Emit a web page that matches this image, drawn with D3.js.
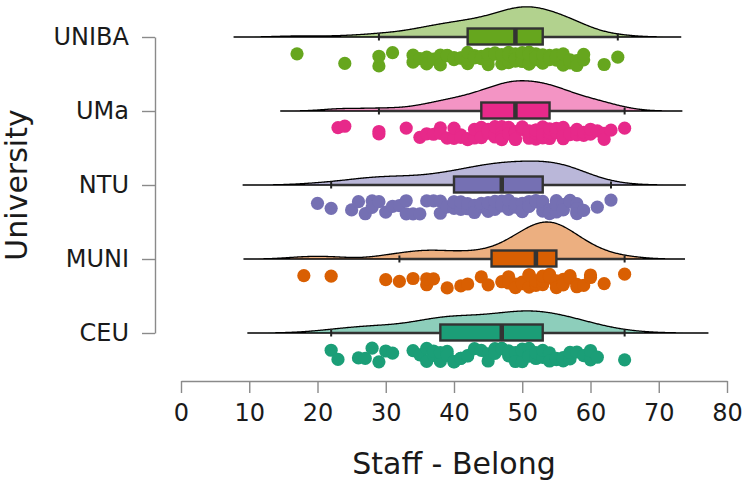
<!DOCTYPE html>
<html>
<head>
<meta charset="utf-8">
<script src="https://cdn.jsdelivr.net/npm/d3@7"></script>
<style>
  body { margin: 0; background: #fff; }
  svg { display: block; font-family: "DejaVu Sans", sans-serif; }
</style>
</head>
<body>
<div class="container"></div>
<script>
// categories, bottom to top
const universities = ['CEU', 'MUNI', 'NTU', 'UMa', 'UNIBA'];
const colours = ['#1b9e77', '#d95f02', '#7570b3', '#e7298a', '#66a61e'];

// Staff - Belong scores per university
const ceu = [22, 23, 26, 27, 28, 29, 30, 31, 34, 35, 36, 36, 37, 37, 38, 38,
  39, 39, 40, 40, 41, 41, 42, 42, 43, 44, 45, 45, 46, 46, 47,
  47, 48, 48, 49, 49, 50, 50, 50, 51, 51, 51, 52, 52, 52, 53,
  53, 54, 54, 55, 55, 56, 56, 57, 57, 58, 59, 60, 60, 61, 65];
const muni = [18, 22, 30, 32, 34, 36, 36, 37, 39, 41, 42, 44, 45, 47,
  48, 48, 49, 49, 50, 50, 51, 51, 51, 52, 52, 52,
  53, 53, 53, 53, 54, 54, 54, 54, 55, 55, 55, 55,
  56, 56, 56, 57, 57, 58, 58, 59, 60, 60, 62, 65];
const ntu = [20, 22, 25, 26, 27, 28, 28, 29, 30, 31, 32, 33, 33, 34, 35, 36, 37, 38, 38, 39,
  40, 40, 40, 41, 41, 42, 42, 43, 43, 44, 44, 44, 45, 45, 45, 46, 46, 46, 47, 47,
  47, 47, 48, 48, 48, 49, 49, 49, 50, 50, 50, 51, 51, 51, 52, 52, 52, 53, 53, 53,
  53, 54, 54, 54, 55, 55, 55, 55, 56, 56, 56, 57, 57, 57, 58, 58, 58, 58, 59, 61, 63];
const uma = [23, 24, 29, 29, 33, 35, 36, 37, 38, 38, 39, 40, 40, 41, 41, 42, 42, 43, 43, 44,
  44, 44, 45, 45, 45, 46, 46, 46, 47, 47, 47, 47, 48, 48, 48, 48, 49, 49, 49, 49,
  49, 49, 50, 50, 50, 50, 51, 51, 51, 52, 52, 52, 52, 53, 53, 53, 53, 54, 54, 54,
  54, 54, 55, 55, 55, 56, 56, 56, 57, 57, 58, 58, 59, 59, 60, 60, 61, 62, 62, 63, 65];
const uniba = [17, 24, 29, 29, 31, 34, 34, 35, 36, 36, 37, 38, 38, 39, 39, 40, 40, 41, 41, 42,
  42, 42, 43, 43, 44, 44, 45, 45, 45, 46, 46, 46, 47, 47, 47, 48, 48, 48, 48, 49,
  49, 49, 49, 49, 50, 50, 50, 50, 51, 51, 51, 51, 51, 52, 52, 52, 52, 52, 53, 53,
  53, 53, 54, 54, 54, 55, 55, 55, 56, 56, 56, 57, 57, 57, 58, 58, 58, 59, 59, 62, 64];
const scores = [ceu, muni, ntu, uma, uniba];

const xTicks = [0, 10, 20, 30, 40, 50, 60, 70, 80];

const W = 743, H = 481;
const FONT = '"DejaVu Sans", sans-serif';
const svg = d3.select('.container').append('svg')
    .attr('width', W)
    .attr('height', H);

const x = d3.scaleLinear().domain([0, 80]).range([181, 727]);
const y = d3.scalePoint().domain(universities).range([333, 37]);

// gaussian kde like R's density(), bw.nrd0, cut = 3
function density(values) {
    const s = values.slice().sort(d3.ascending);
    const n = s.length;
    const iqr = d3.quantileSorted(s, 0.75) - d3.quantileSorted(s, 0.25);
    const bw = 0.9 * Math.min(d3.deviation(s), iqr / 1.34) * Math.pow(n, -0.2);
    const lo = s[0] - 3 * bw, hi = s[n - 1] + 3 * bw;
    const pts = [];
    for (let i = 0; i < 512; i++) {
        const v = lo + (hi - lo) * i / 511;
        let sum = 0;
        for (const d of s) {
            const u = (v - d) / bw;
            sum += Math.exp(-0.5 * u * u);
        }
        pts.push([v, sum / (n * bw * Math.sqrt(2 * Math.PI))]);
    }
    return pts;
}

function boxStats(values) {
    const s = values.slice().sort(d3.ascending);
    const q1 = d3.quantileSorted(s, 0.25), med = d3.quantileSorted(s, 0.5), q3 = d3.quantileSorted(s, 0.75);
    const iqr = q3 - q1;
    const lo = d3.min(s.filter(v => v >= q1 - 1.5 * iqr));
    const hi = d3.max(s.filter(v => v <= q3 + 1.5 * iqr));
    return {q1, med, q3, lo, hi};
}

const groups = universities.map((u, i) => ({
    name: u, colour: colours[i], values: scores[i],
    dens: density(scores[i]), box: boxStats(scores[i])
}));

// violins scaled by area: common max density -> half the band
const maxDens = d3.max(groups, g => d3.max(g.dens, d => d[1]));
const h = d3.scaleLinear().domain([0, maxDens]).range([0, 37]);

// axes
const yAxis = svg.append('g')
    .attr('transform', 'translate(155,0)')
    .call(d3.axisLeft(y).tickSize(13).tickSizeOuter(0).tickPadding(13));
const xAxis = svg.append('g')
    .attr('transform', 'translate(0,381)')
    .call(d3.axisBottom(x).tickValues(xTicks).tickSize(12).tickSizeOuter(0).tickPadding(11));
[yAxis, xAxis].forEach(a => {
    a.attr('font-family', FONT);
    a.selectAll('path, line').attr('stroke', '#8a8a8a').attr('stroke-width', 1.4);
    a.selectAll('text').attr('fill', '#1a1a1a').style('font-size', '24px');
});

svg.append('text')
    .attr('x', 454).attr('y', 474)
    .attr('text-anchor', 'middle')
    .style('font-size', '30px')
    .attr('fill', '#1a1a1a')
    .text('Staff - Belong');
svg.append('text')
    .attr('transform', 'translate(27,185) rotate(-90)')
    .attr('text-anchor', 'middle')
    .style('font-size', '30px')
    .attr('fill', '#1a1a1a')
    .text('University');

// half violins
const plot = svg.append('g');
groups.forEach(g => {
    const base = y(g.name);
    const area = d3.area()
        .x(d => x(d[0]))
        .y0(base)
        .y1(d => base - h(d[1]));
    plot.append('path')
        .datum(g.dens)
        .attr('d', area)
        .attr('fill', g.colour)
        .attr('fill-opacity', 0.5)
        .attr('stroke', '#000')
        .attr('stroke-width', 1.3);
});

// jittered points below each violin
const rng = d3.randomLcg(0.137);
groups.forEach(g => {
    const base = y(g.name);
    plot.append('g').selectAll('circle')
        .data(g.values)
        .enter().append('circle')
        .attr('cx', d => x(d))
        .attr('cy', () => base + 15 + rng() * 14)
        .attr('r', 6.6)
        .attr('fill', g.colour);
});

// boxplots
groups.forEach(g => {
    const base = y(g.name), b = g.box;
    const bx = plot.append('g');
    bx.append('line')
        .attr('x1', x(b.lo)).attr('x2', x(b.hi))
        .attr('y1', base).attr('y2', base)
        .attr('stroke', '#333').attr('stroke-width', 2.4);
    [b.lo, b.hi].forEach(v => {
        bx.append('line')
            .attr('x1', x(v)).attr('x2', x(v))
            .attr('y1', base - 3.5).attr('y2', base + 3.5)
            .attr('stroke', '#222').attr('stroke-width', 2);
    });
    bx.append('rect')
        .attr('x', x(b.q1)).attr('width', x(b.q3) - x(b.q1))
        .attr('y', base - 8.5).attr('height', 16)
        .attr('fill', g.colour)
        .attr('stroke', '#333').attr('stroke-width', 2.4);
    bx.append('line')
        .attr('x1', x(b.med)).attr('x2', x(b.med))
        .attr('y1', base - 8.5).attr('y2', base + 7.5)
        .attr('stroke', '#333').attr('stroke-width', 4.5);
});
</script>
</body>
</html>
